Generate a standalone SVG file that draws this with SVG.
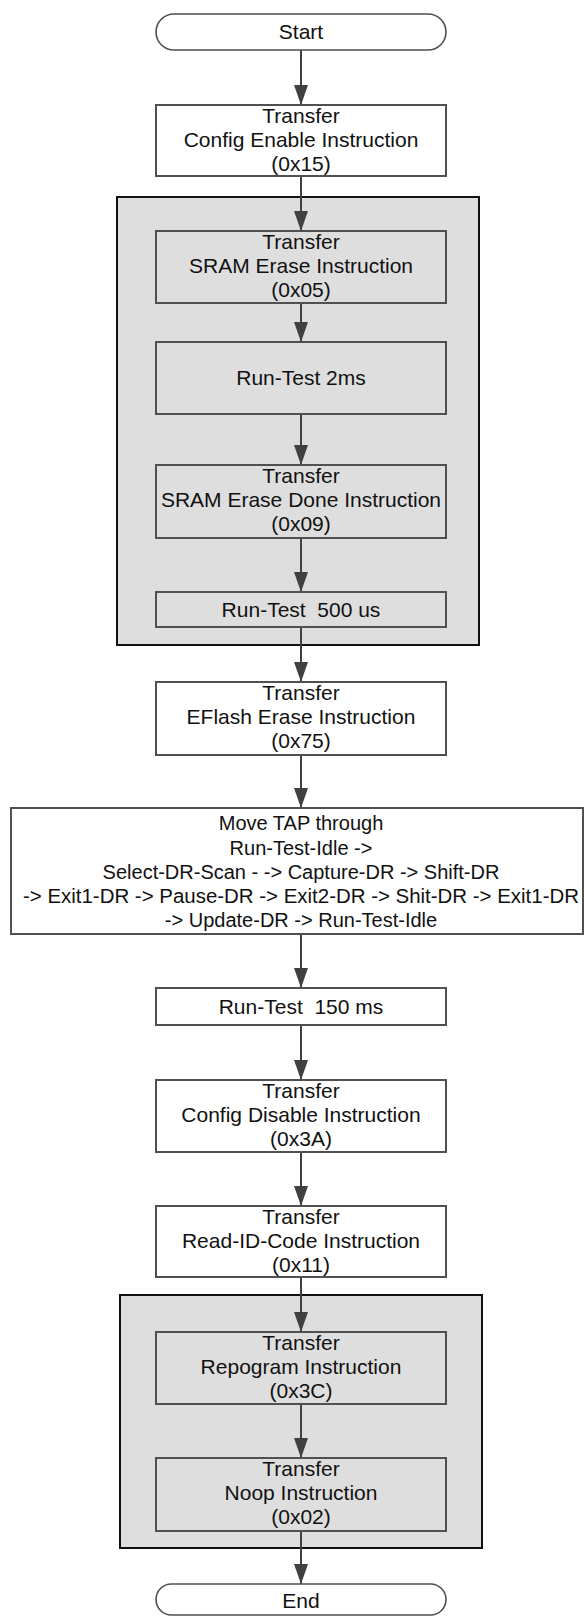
<svg xmlns="http://www.w3.org/2000/svg" width="584" height="1616" viewBox="0 0 584 1616">
  <style>
    .bg { fill: #ffffff; }
    .group { fill: #dedede; stroke: #111111; stroke-width: 2; }
    .box { fill: #ffffff; stroke: #505050; stroke-width: 2; }
    .box.inner { fill: #dedede; }
    .term { fill: #ffffff; stroke: #505050; stroke-width: 1.6; }
    .lbl { font-family: "Liberation Sans", Arial, sans-serif; font-size: 21px; fill: #111111; text-anchor: middle; white-space: pre; }
    .lbl.small { font-size: 20px; }
    .edge { stroke: #404040; stroke-width: 2; fill: none; marker-end: url(#arrow); }
  </style>
  <defs>
    <!-- filled triangular arrowhead, tip at the end of the line -->
    <marker id="arrow" markerWidth="20" markerHeight="14" refX="20" refY="7" orient="auto" markerUnits="userSpaceOnUse" viewBox="0 0 20 14">
      <path d="M0,0 L20,7 L0,14 Z" fill="#404040"/>
    </marker>
  </defs>

  <rect class="bg" x="0" y="0" width="584" height="1616"/>

  <!-- container groups -->
  <g id="erase-sram-group">
    <rect class="group" x="117" y="197" width="362" height="448"/>
  </g>
  <g id="reprogram-group">
    <rect class="group" x="120" y="1295" width="362" height="253"/>
  </g>

  <!-- connectors -->
  <g id="connectors">
    <line class="edge" x1="301" y1="50" x2="301" y2="105"/>
    <line class="edge" x1="301" y1="176" x2="301" y2="231"/>
    <line class="edge" x1="301" y1="303" x2="301" y2="342"/>
    <line class="edge" x1="301" y1="414" x2="301" y2="465"/>
    <line class="edge" x1="301" y1="538" x2="301" y2="592"/>
    <line class="edge" x1="301" y1="627" x2="301" y2="682"/>
    <line class="edge" x1="301" y1="755" x2="301" y2="808"/>
    <line class="edge" x1="301" y1="934" x2="301" y2="988"/>
    <line class="edge" x1="301" y1="1025" x2="301" y2="1080"/>
    <line class="edge" x1="301" y1="1152" x2="301" y2="1206"/>
    <line class="edge" x1="301" y1="1277" x2="301" y2="1332"/>
    <line class="edge" x1="301" y1="1404" x2="301" y2="1458"/>
    <line class="edge" x1="301" y1="1531" x2="301" y2="1584"/>
  </g>

  <g id="start">
    <rect class="term" x="156" y="14" width="290" height="36" rx="18"/>
    <text class="lbl" x="301" y="39">Start</text>
  </g>

  <g id="config-enable">
    <rect class="box" x="156" y="105" width="290" height="71"/>
    <text class="lbl" x="301" y="123">Transfer</text>
    <text class="lbl" x="301" y="147">Config Enable Instruction</text>
    <text class="lbl" x="301" y="171">(0x15)</text>
  </g>

  <g id="sram-erase">
    <rect class="box inner" x="156" y="231" width="290" height="72"/>
    <text class="lbl" x="301" y="249">Transfer</text>
    <text class="lbl" x="301" y="273">SRAM Erase Instruction</text>
    <text class="lbl" x="301" y="297">(0x05)</text>
  </g>

  <g id="run-test-2ms">
    <rect class="box inner" x="156" y="342" width="290" height="72"/>
    <text class="lbl" x="301" y="385">Run-Test 2ms</text>
  </g>

  <g id="sram-erase-done">
    <rect class="box inner" x="156" y="465" width="290" height="73"/>
    <text class="lbl" x="301" y="483">Transfer</text>
    <text class="lbl" x="301" y="507">SRAM Erase Done Instruction</text>
    <text class="lbl" x="301" y="531">(0x09)</text>
  </g>

  <g id="run-test-500us">
    <rect class="box inner" x="156" y="592" width="290" height="35"/>
    <text class="lbl" x="301" y="617">Run-Test  500 us</text>
  </g>

  <g id="eflash-erase">
    <rect class="box" x="156" y="682" width="290" height="73"/>
    <text class="lbl" x="301" y="700">Transfer</text>
    <text class="lbl" x="301" y="724">EFlash Erase Instruction</text>
    <text class="lbl" x="301" y="748">(0x75)</text>
  </g>

  <g id="move-tap">
    <rect class="box" x="11" y="808" width="572" height="126"/>
    <text class="lbl small" x="301" y="830">Move TAP through</text>
    <text class="lbl small" x="301" y="854.5">Run-Test-Idle -&gt;</text>
    <text class="lbl small" x="301" y="879">Select-DR-Scan - -&gt; Capture-DR -&gt; Shift-DR</text>
    <text class="lbl small" x="301" y="903" textLength="556" lengthAdjust="spacingAndGlyphs">-&gt; Exit1-DR -&gt; Pause-DR -&gt; Exit2-DR -&gt; Shit-DR -&gt; Exit1-DR</text>
    <text class="lbl small" x="301" y="927">-&gt; Update-DR -&gt; Run-Test-Idle</text>
  </g>

  <g id="run-test-150ms">
    <rect class="box" x="156" y="988" width="290" height="37"/>
    <text class="lbl" x="301" y="1014">Run-Test  150 ms</text>
  </g>

  <g id="config-disable">
    <rect class="box" x="156" y="1080" width="290" height="72"/>
    <text class="lbl" x="301" y="1098">Transfer</text>
    <text class="lbl" x="301" y="1122">Config Disable Instruction</text>
    <text class="lbl" x="301" y="1146">(0x3A)</text>
  </g>

  <g id="read-id-code">
    <rect class="box" x="156" y="1206" width="290" height="71"/>
    <text class="lbl" x="301" y="1224">Transfer</text>
    <text class="lbl" x="301" y="1248">Read-ID-Code Instruction</text>
    <text class="lbl" x="301" y="1272">(0x11)</text>
  </g>

  <g id="reprogram">
    <rect class="box inner" x="156" y="1332" width="290" height="72"/>
    <text class="lbl" x="301" y="1350">Transfer</text>
    <text class="lbl" x="301" y="1374">Repogram Instruction</text>
    <text class="lbl" x="301" y="1398">(0x3C)</text>
  </g>

  <g id="noop">
    <rect class="box inner" x="156" y="1458" width="290" height="73"/>
    <text class="lbl" x="301" y="1476">Transfer</text>
    <text class="lbl" x="301" y="1500">Noop Instruction</text>
    <text class="lbl" x="301" y="1524">(0x02)</text>
  </g>

  <g id="end">
    <rect class="term" x="156" y="1584" width="290" height="31" rx="15.5"/>
    <text class="lbl" x="301" y="1608">End</text>
  </g>
</svg>
